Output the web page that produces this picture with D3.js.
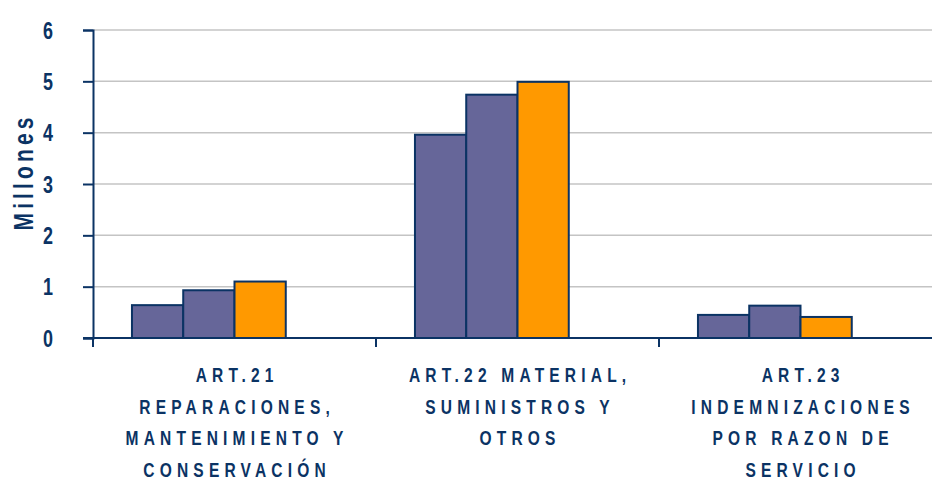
<!DOCTYPE html>
<html lang="es">
<meta charset="utf-8">
<title>Millones por articulo</title>
<style>
  body { margin: 0; background: #fff; }
  text { font-family: "Liberation Sans", Arial, sans-serif; font-weight: bold; fill: #0b3364; }
</style>
<body>
<svg id="chart"></svg>
<script src="https://cdn.jsdelivr.net/npm/d3@7/dist/d3.min.js"></script>
<script>

    //////////////////////// Data ////////////////////////
    var categories = [
        ["ART.21", "REPARACIONES,", "MANTENIMIENTO Y", "CONSERVACIÓN"],
        ["ART.22 MATERIAL,", "SUMINISTROS Y", "OTROS"],
        ["ART.23", "INDEMNIZACIONES", "POR RAZON DE", "SERVICIO"]
    ];
    var serie_1 = [0.64, 3.96, 0.45];
    var serie_2 = [0.93, 4.74, 0.63];
    var serie_3 = [1.10, 4.99, 0.41];
    var y_ticks = [0, 1, 2, 3, 4, 5, 6];
    var y_label = "Millones";
    //////////////////////////////////////////////////////

    /////////////////////// Layout ///////////////////////
    var width      = 932;
    var height     = 481;
    var plot_left  = 93;
    var plot_right = 942;   // last category runs past the picture edge
    var plot_top   = 30;
    var plot_bot   = 338;

    var series     = [serie_1, serie_2, serie_3];
    var colors     = ['#666699', '#666699', '#ff9900'];
    var navy       = '#0b3364';
    var grid_color = '#c4c4c4';

    // the original font is a narrow bold one, so squeeze the text
    var squeeze    = 0.74;
    var cat_size   = 21;
    var cat_space  = 7;
    var tick_size  = 23;
    var tick_sq    = 0.78;
    //////////////////////////////////////////////////////

    var svg = d3.select("#chart")
        .attr('width',  width)
        .attr('height', height);

    var x0 = d3.scaleBand()
        .domain(d3.range(categories.length))
        .range([plot_left, plot_right]);

    // four slots per group, the fourth one stays empty
    var x1 = d3.scaleBand()
        .domain(d3.range(4))
        .range([0, x0.bandwidth()])
        .paddingOuter(0.76);

    var y = d3.scaleLinear()
        .domain([0, 6])
        .range([plot_bot, plot_top]);

    // grid lines
    svg.append("g")
        .selectAll("line")
        .data(y_ticks.filter(function (d) { return d > 0; }))
        .join("line")
        .attr('x1', plot_left)
        .attr('x2', width)
        .attr('y1', function (d) { return y(d); })
        .attr('y2', function (d) { return y(d); })
        .attr('stroke', grid_color)
        .attr('stroke-width', 1.5);

    // bars
    series.forEach(function (vals, s) {
        svg.append("g")
            .selectAll("rect")
            .data(vals)
            .join("rect")
            .attr('x', function (d, i) { return x0(i) + x1(s); })
            .attr('y', function (d) { return y(d); })
            .attr('width', x1.bandwidth())
            .attr('height', function (d) { return y(0) - y(d); })
            .attr('fill', colors[s])
            .attr('stroke', navy)
            .attr('stroke-width', 2);
    });

    // y axis
    var y_axis = svg.append("g")
        .attr('transform', 'translate(' + plot_left + ',0)')
        .call(d3.axisLeft(y).tickValues(y_ticks).tickSize(10)
              .tickFormat(d3.format("d")));
    y_axis.select(".domain").attr('stroke', navy).attr('stroke-width', 2);
    y_axis.selectAll(".tick line").attr('stroke', navy).attr('stroke-width', 2);
    y_axis.selectAll(".tick text")
        .attr('text-anchor', 'end')
        .attr('x', -40 / tick_sq)
        .attr('dy', '0.36em')
        .attr('transform', 'scale(' + tick_sq + ',1)')
        .style('font-size', tick_size + 'px')
        .style('fill', navy);

    // x axis
    var x_axis = svg.append("g")
        .attr('transform', 'translate(0,' + plot_bot + ')');
    x_axis.append("line")
        .attr('x1', plot_left - 10)
        .attr('x2', width)
        .attr('stroke', navy)
        .attr('stroke-width', 2);
    x_axis.selectAll("line.tk")
        .data(d3.range(categories.length + 1))
        .join("line")
        .attr('class', 'tk')
        .attr('x1', function (d) { return plot_left + d * x0.step(); })
        .attr('x2', function (d) { return plot_left + d * x0.step(); })
        .attr('y1', 0)
        .attr('y2', 9)
        .attr('stroke', navy)
        .attr('stroke-width', 2);

    // category labels
    categories.forEach(function (lines, i) {
        var cx = x0(i) + x0.bandwidth() / 2 + cat_space * squeeze / 2;
        lines.forEach(function (ln, k) {
            svg.append("text")
                .attr('transform', 'translate(' + cx + ',' + (382 + k * 31.5) + ') scale(' + squeeze + ',1)')
                .attr('text-anchor', 'middle')
                .attr('font-size', cat_size)
                .attr('letter-spacing', cat_space)
                .text(ln);
        });
    });

    // y label
    svg.append("text")
        .attr('transform', 'translate(33,172) rotate(-90) scale(0.75,1)')
        .attr('text-anchor', 'middle')
        .attr('font-size', 28)
        .attr('letter-spacing', 5.5)
        .text(y_label);

</script>
</body>
</html>
